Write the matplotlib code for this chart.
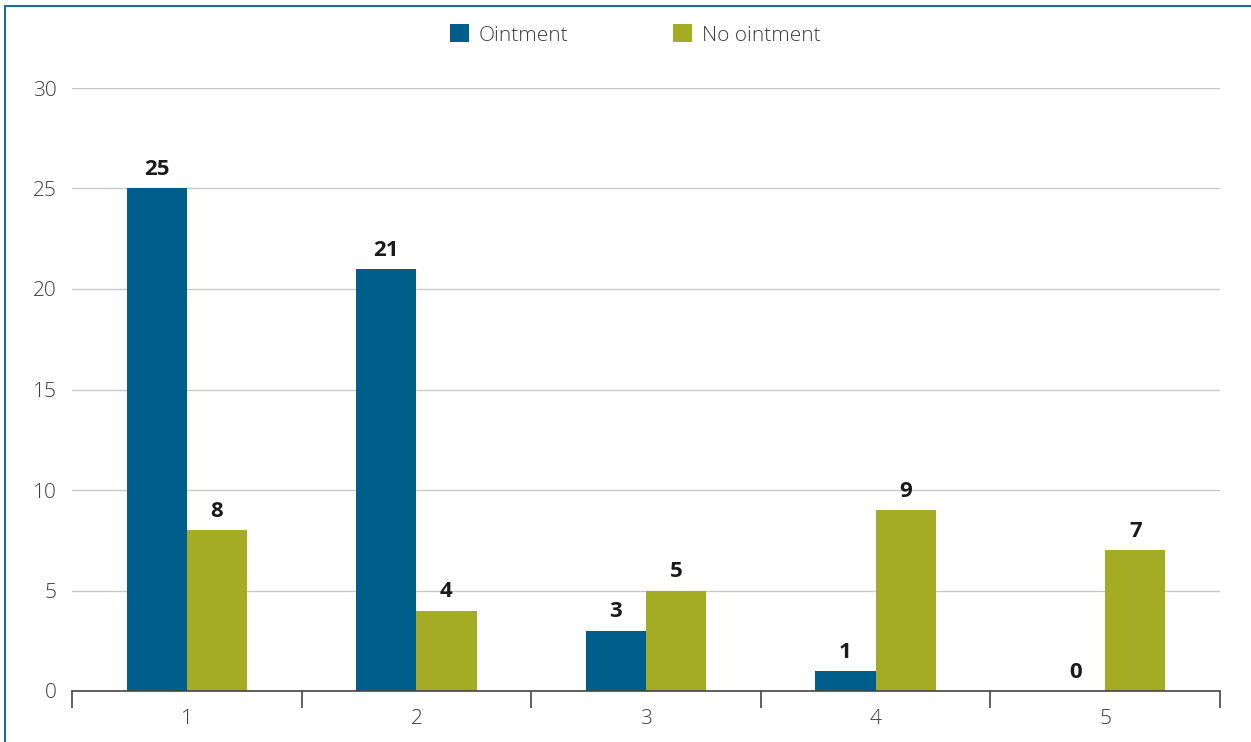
import matplotlib.pyplot as plt
import numpy as np
from matplotlib.lines import Line2D

categories = ['1', '2', '3', '4', '5']
ointment = [25, 21, 3, 1, 0]
no_ointment = [8, 4, 5, 9, 7]

c_blue = '#005f8a'
c_green = '#a3ac24'

plt.rcParams['font.family'] = ['Open Sans', 'DejaVu Sans']
plt.rcParams['font.weight'] = 'light'

fig = plt.figure(figsize=(12.51, 7.42), dpi=100)
ax = fig.add_axes([72 / 1251, 51 / 742, 1148 / 1251, 603 / 742])

x = np.arange(len(categories))
w = 0.262
b1 = ax.bar(x - w / 2, ointment, w, color=c_blue, label='Ointment', zorder=3)
b2 = ax.bar(x + w / 2, no_ointment, w, color=c_green, label='No ointment', zorder=3)

for bars in (b1, b2):
    for rect in bars:
        h = rect.get_height()
        ax.annotate(str(int(h)), (rect.get_x() + rect.get_width() / 2, h),
                    xytext=(0, 6), textcoords='offset points', ha='center', va='bottom',
                    fontsize=16, fontweight='bold', color='#1a1a1a')

ax.set_xlim(-0.5, 4.5)
ax.set_ylim(0, 30)
ax.set_yticks(range(0, 31, 5))
ax.yaxis.grid(True, color='#c8c8c8', lw=1, zorder=0)
ax.tick_params(axis='y', length=0, pad=11, labelsize=15, labelcolor='#3c3c3c')

ax.set_xticks(np.arange(-0.5, 5, 1))
ax.set_xticklabels([])
ax.set_xticks(x, minor=True)
ax.set_xticklabels(categories, minor=True)
ax.tick_params(axis='x', which='major', length=12, width=1.2, color='#444444', direction='out')
ax.tick_params(axis='x', which='minor', length=0, pad=13, labelsize=15, labelcolor='#3c3c3c')

for s in ['top', 'right', 'left']:
    ax.spines[s].set_visible(False)
ax.spines['bottom'].set_color('#444444')
ax.spines['bottom'].set_linewidth(1.2)
ax.spines['bottom'].set_zorder(4)

fig.legend(loc='center', bbox_to_anchor=(635 / 1251, 1 - 35 / 742), ncol=2, frameon=False,
           fontsize=15, handlelength=0.95, handleheight=0.95, handletextpad=0.45,
           columnspacing=5.0, labelcolor='#3c3c3c')

# outer frame (left and top edges)
fig.add_artist(Line2D([5 / 1251, 5 / 1251], [0, 1 - 6 / 742], transform=fig.transFigure,
                      color='#1f6e9c', lw=1.5))
fig.add_artist(Line2D([5 / 1251, 1], [1 - 6 / 742, 1 - 6 / 742], transform=fig.transFigure,
                      color='#1f6e9c', lw=1.5))

fig.savefig('out.png', dpi=100)
